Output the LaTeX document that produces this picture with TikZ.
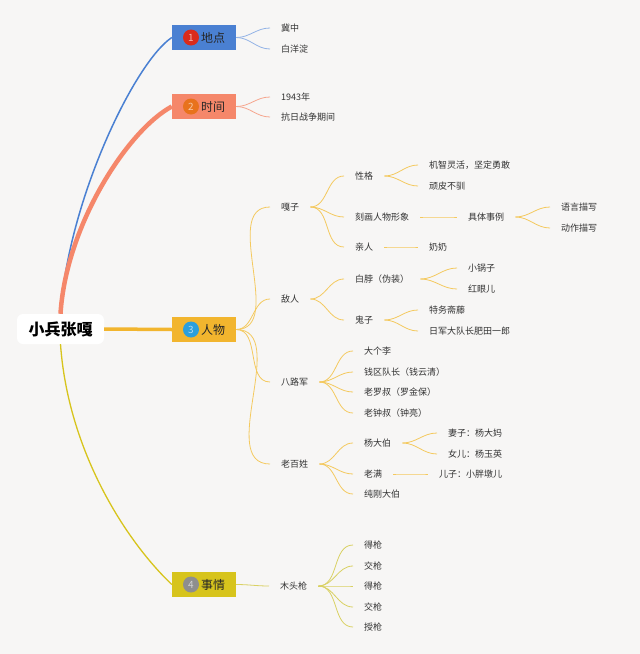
\documentclass[tikz,border=0pt]{standalone}
\usepackage{fontspec}
\newfontfamily\cjk{Noto Sans CJK SC}
\usepackage{tikz}
\usetikzlibrary{arrows}
\definecolor{bgpaper}{HTML}{F7F6F5}
\definecolor{placeblue}{HTML}{4A80D2}
\definecolor{placedot}{HTML}{D92B1C}
\definecolor{placeline}{HTML}{93B3E6}
\definecolor{timesalmon}{HTML}{F5876A}
\definecolor{timedot}{HTML}{E8721C}
\definecolor{timeline}{HTML}{F6A68E}
\definecolor{persongold}{HTML}{F2B52E}
\definecolor{persondot}{HTML}{2C9FDB}
\definecolor{personline}{HTML}{F4C95E}
\definecolor{eventolive}{HTML}{D7C41C}
\definecolor{eventdot}{HTML}{8E8E8E}
\definecolor{eventline}{HTML}{D9D163}

\begin{document}
\begin{tikzpicture}[x=1pt, y=-1pt,
  topic/.style={rectangle, minimum width=64pt, minimum height=25pt, inner sep=0pt, text=black!85, font=\cjk\fontsize{12}{12}\selectfont},
  dot/.style={circle, minimum size=16pt, inner sep=0pt, font=\cjk\fontsize{10}{10}\selectfont},
  leaf/.style={anchor=west, inner xsep=11pt, inner ysep=1pt, text=black!80, font=\cjk\fontsize{9}{10}\selectfont},
  paths/.style={line width=0.8pt, out=0, in=180}]

 \fill [bgpaper] (0,0) rectangle (640,654);

 % root and the four topics
 \node (hero) at (60.5,329) [fill=white, rounded corners=6pt, minimum width=87pt, minimum height=30pt,
     inner sep=0pt, font=\cjk\bfseries\fontsize{16}{16}\selectfont] {小兵张嘎};

 \node (topic_1) at (204,37.5) [topic, fill=placeblue] {\hspace*{18pt}地点};
 \node (topic_2) at (204,106.5) [topic, fill=timesalmon] {\hspace*{18pt}时间};
 \node (topic_3) at (204,329.5) [topic, fill=persongold] {\hspace*{18pt}人物};
 \node (topic_4) at (204,584.5) [topic, fill=eventolive] {\hspace*{18pt}事情};

 \node (dot_1) at (191,37.5) [dot, fill=placedot, text=placedot!35!white] {1};
 \node (dot_2) at (191,106.5) [dot, fill=timedot, text=timedot!40!white] {2};
 \node (dot_3) at (191,329.5) [dot, fill=persondot, text=persondot!35!white] {3};
 \node (dot_4) at (191,584.5) [dot, fill=eventdot, text=eventdot!40!white] {4};

 \draw [placeblue, line width=1.5pt] (hero.north) .. controls (68,200) and (135,62) .. (topic_1.west);
 \draw [timesalmon, line width=4.5pt] (hero.north) .. controls (66,225) and (128,130) .. (topic_2.west);
 \draw [persongold, line width=3.5pt] (hero.east) -- (topic_3.west);
 \draw [eventolive, line width=1.3pt] (hero.south) .. controls (68,450) and (125,540) .. (topic_4.west);

 % place
 \node (place_a) at (270,28) [leaf] {冀中};
 \node (place_b) at (270,49) [leaf] {白洋淀};
 \draw [paths, placeline] (topic_1.east) to (place_a.west);
 \draw [paths, placeline] (topic_1.east) to (place_b.west);

 % time
 \node (time_a) at (270,97) [leaf] {1943年};
 \node (time_b) at (270,117) [leaf] {抗日战争期间};
 \draw [paths, timeline] (topic_2.east) to (time_a.west);
 \draw [paths, timeline] (topic_2.east) to (time_b.west);

 % persons
 \node (gazi) at (270,207) [leaf] {嘎子};
 \node (enemy) at (270,299) [leaf] {敌人};
 \node (army) at (270,382) [leaf] {八路军};
 \node (folk) at (270,464) [leaf] {老百姓};
 \draw [paths, personline] (topic_3.east) to (gazi.west);
 \draw [paths, personline] (topic_3.east) to (enemy.west);
 \draw [paths, personline] (topic_3.east) to (army.west);
 \draw [paths, personline] (topic_3.east) to (folk.west);

 \node (trait) at (344,176) [leaf] {性格};
 \node (image) at (344,217) [leaf] {刻画人物形象};
 \node (kin) at (344,247) [leaf] {亲人};
 \draw [paths, personline] (gazi.east) to (trait.west);
 \draw [paths, personline] (gazi.east) to (image.west);
 \draw [paths, personline] (gazi.east) to (kin.west);

 \node (trait_a) at (418,165) [leaf] {机智灵活，坚定勇敢};
 \node (trait_b) at (418,186) [leaf] {顽皮不驯};
 \draw [paths, personline] (trait.east) to (trait_a.west);
 \draw [paths, personline] (trait.east) to (trait_b.west);

 \node (example) at (457,217) [leaf] {具体事例};
 \node (speech) at (550,207) [leaf] {语言描写};
 \node (action) at (550,228) [leaf] {动作描写};
 \draw [paths, personline] (image.east) to (example.west);
 \draw [paths, personline] (example.east) to (speech.west);
 \draw [paths, personline] (example.east) to (action.west);

 \node (granny) at (418,247) [leaf] {奶奶};
 \draw [paths, personline] (kin.east) to (granny.west);

 \node (baibo) at (344,279) [leaf] {白脖（伪装）};
 \node (devil) at (344,320) [leaf] {鬼子};
 \draw [paths, personline] (enemy.east) to (baibo.west);
 \draw [paths, personline] (enemy.east) to (devil.west);

 \node (guozi) at (457,268) [leaf] {小锅子};
 \node (hongyan) at (457,289) [leaf] {红眼儿};
 \draw [paths, personline] (baibo.east) to (guozi.west);
 \draw [paths, personline] (baibo.east) to (hongyan.west);

 \node (saito) at (418,310) [leaf] {特务斋藤};
 \node (feitian) at (418,331) [leaf] {日军大队长肥田一郎};
 \draw [paths, personline] (devil.east) to (saito.west);
 \draw [paths, personline] (devil.east) to (feitian.west);

 \node (army_a) at (353,351) [leaf] {大个李};
 \node (army_b) at (353,372) [leaf] {钱区队长（钱云清）};
 \node (army_c) at (353,392) [leaf] {老罗叔（罗金保）};
 \node (army_d) at (353,413) [leaf] {老钟叔（钟亮）};
 \draw [paths, personline] (army.east) to (army_a.west);
 \draw [paths, personline] (army.east) to (army_b.west);
 \draw [paths, personline] (army.east) to (army_c.west);
 \draw [paths, personline] (army.east) to (army_d.west);

 \node (yang) at (353,443) [leaf] {杨大伯};
 \node (laoman) at (353,474) [leaf] {老满};
 \node (chungang) at (353,494) [leaf] {纯刚大伯};
 \draw [paths, personline] (folk.east) to (yang.west);
 \draw [paths, personline] (folk.east) to (laoman.west);
 \draw [paths, personline] (folk.east) to (chungang.west);

 \node (yang_a) at (437,433) [leaf] {妻子：杨大妈};
 \node (yang_b) at (437,454) [leaf] {女儿：杨玉英};
 \node (laoman_a) at (428,474) [leaf] {儿子：小胖墩儿};
 \draw [paths, personline] (yang.east) to (yang_a.west);
 \draw [paths, personline] (yang.east) to (yang_b.west);
 \draw [paths, personline] (laoman.east) to (laoman_a.west);

 % events
 \node (gun) at (269,586) [leaf] {木头枪};
 \draw [paths, eventline] (topic_4.east) to (gun.west);

 \node (gun_a) at (353,545) [leaf] {得枪};
 \node (gun_b) at (353,566) [leaf] {交枪};
 \node (gun_c) at (353,586) [leaf] {得枪};
 \node (gun_d) at (353,607) [leaf] {交枪};
 \node (gun_e) at (353,627) [leaf] {授枪};
 \draw [paths, eventline] (gun.east) to (gun_a.west);
 \draw [paths, eventline] (gun.east) to (gun_b.west);
 \draw [paths, eventline] (gun.east) to (gun_c.west);
 \draw [paths, eventline] (gun.east) to (gun_d.west);
 \draw [paths, eventline] (gun.east) to (gun_e.west);

\end{tikzpicture}
\end{document}
